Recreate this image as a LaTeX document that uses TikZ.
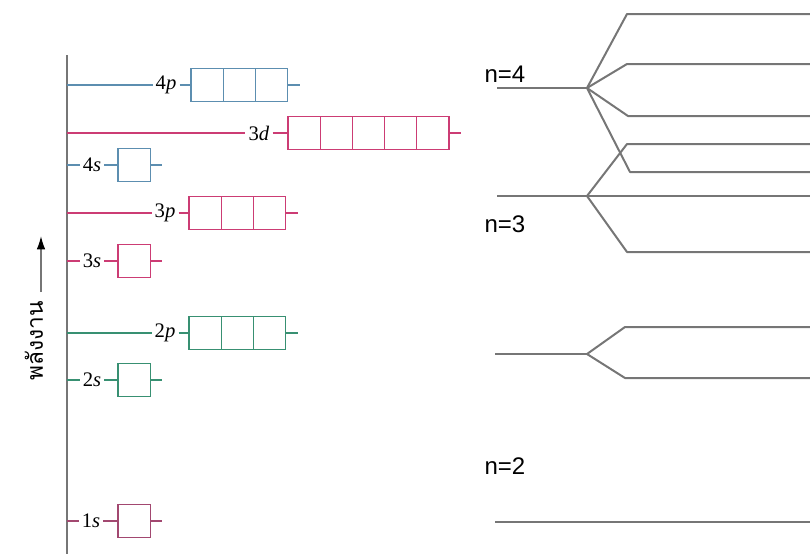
\documentclass[tikz,border=0pt]{standalone}
\usepackage{fontspec}
\newfontfamily\thaifont[Script=Thai]{Loma}
\newfontfamily\levelfont{Liberation Sans}
\newfontfamily\orbfont{Liberation Serif}
\usetikzlibrary{arrows.meta}

\definecolor{orbblue}{RGB}{92,142,176}
\definecolor{orbred}{RGB}{204,60,116}
\definecolor{orbgreen}{RGB}{56,144,114}
\definecolor{orbpurple}{RGB}{162,72,112}
\definecolor{levelgray}{RGB}{118,118,118}

\tikzset{every picture/.style={line width=0.75pt}}
\tikzset{
  cell/.style={draw, minimum width=24.15pt, minimum height=24.75pt, inner sep=0pt, outer sep=0pt, line width=1pt},
  orblabel/.style={inner sep=2pt, font=\orbfont\fontsize{15.5}{17}\selectfont},
  orbline/.style={line width=1pt},
  level/.style={draw=levelgray, line width=1.5pt, line join=round},
  nlabel/.style={inner sep=0pt, anchor=west, font=\levelfont\fontsize{18}{20}\selectfont}
}

\begin{document}
\begin{tikzpicture}[x=0.75pt,y=0.75pt,yscale=-1,xscale=1]
\useasboundingbox (0,0) rectangle (810,554);

%Energy axis
\coordinate (axtop) at (67,55);
\coordinate (axbot) at (67,554);
\draw [draw=levelgray, line width=1.5pt] (axtop) -- (axbot) ;

%Energy arrow and label
\coordinate (arrtail) at (41,292);
\coordinate (arrtip) at (41,236);
\draw [draw=levelgray, line width=1.2pt, -{Latex[length=10pt,width=6.5pt,color=black]}] (arrtail) -- (arrtip) ;
\node [rotate=90, inner sep=0pt] (energy) at (34,341) {\thaifont\fontsize{17}{19}\selectfont พลังงาน};

%Orbitals: number/letter/y/colour/label x/box x/cells
\foreach \nn/\ll/\yy/\cl/\lx/\bx/\nc in {4/p/85/orbblue/166/191/3, 3/d/133/orbred/259/288/5, 4/s/165/orbblue/92/118/1, 3/p/213/orbred/165/189/3, 3/s/261/orbred/92/118/1, 2/p/333/orbgreen/165/189/3, 2/s/380/orbgreen/92/118/1, 1/s/521/orbpurple/91/118/1}{
  \coordinate (a\nn\ll) at (67,\yy);
  \node [orblabel] (l\nn\ll) at (\lx,\yy) {\nn\textit{\ll}};
  \foreach \i in {1,...,\nc}{
    \node [cell, draw=\cl] (b\nn\ll-\i) at ({\bx+16.1+32.2*(\i-1)},\yy) {};
  }
  \coordinate (t\nn\ll) at ({\bx+32.2*\nc+12},\yy);
  \draw [orbline, draw=\cl] (a\nn\ll) -- (l\nn\ll) ;
  \draw [orbline, draw=\cl] (l\nn\ll) -- (b\nn\ll-1) ;
  \draw [orbline, draw=\cl] (b\nn\ll-\nc.east) -- (t\nn\ll) ;
}

%Levels n=4
\coordinate (s4) at (497,88);
\coordinate (k4) at (587,88);
\coordinate (c4a) at (627,14);  \coordinate (e4a) at (810,14);
\coordinate (c4b) at (627,64);  \coordinate (e4b) at (810,64);
\coordinate (c4c) at (628,116); \coordinate (e4c) at (810,116);
\coordinate (c4d) at (630,172); \coordinate (e4d) at (810,172);
\draw [level] (s4) -- (k4) ;
\draw [level] (k4) -- (c4a) -- (e4a) ;
\draw [level] (k4) -- (c4b) -- (e4b) ;
\draw [level] (k4) -- (c4c) -- (e4c) ;
\draw [level] (k4) -- (c4d) -- (e4d) ;

%Levels n=3
\coordinate (s3) at (497,196);
\coordinate (k3) at (587,196);
\coordinate (c3a) at (627,144); \coordinate (e3a) at (810,144);
\coordinate (e3b) at (810,196);
\coordinate (c3c) at (627,252); \coordinate (e3c) at (810,252);
\draw [level] (s3) -- (k3) -- (e3b) ;
\draw [level] (k3) -- (c3a) -- (e3a) ;
\draw [level] (k3) -- (c3c) -- (e3c) ;

%Levels n=2
\coordinate (s2) at (495,354);
\coordinate (k2) at (587,354);
\coordinate (c2a) at (625,327); \coordinate (e2a) at (810,327);
\coordinate (c2b) at (625,378); \coordinate (e2b) at (810,378);
\draw [level] (s2) -- (k2) ;
\draw [level] (k2) -- (c2a) -- (e2a) ;
\draw [level] (k2) -- (c2b) -- (e2b) ;

%Level n=1
\coordinate (s1) at (495,522);
\coordinate (e1) at (810,522);
\draw [level] (s1) -- (e1) ;

% Text Node
\node [nlabel] (n4) at (484,74) {n=4};
% Text Node
\node [nlabel] (n3) at (484,224) {n=3};
% Text Node
\node [nlabel] (n2) at (484,466) {n=2};

\end{tikzpicture}
\end{document}
